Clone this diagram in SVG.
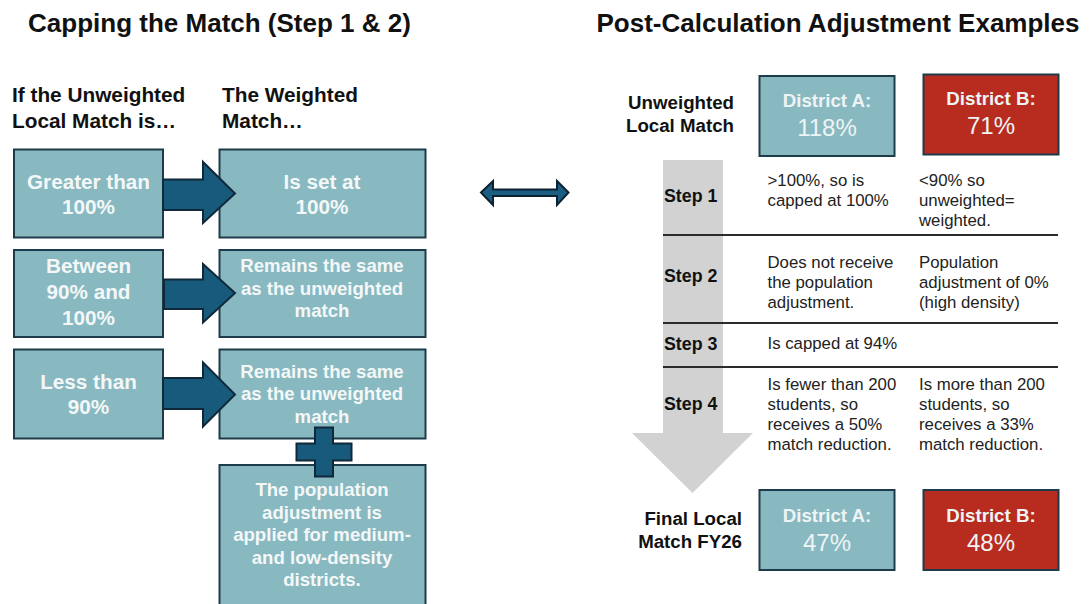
<svg xmlns="http://www.w3.org/2000/svg" width="1092" height="604" viewBox="0 0 1092 604">
<style>
.title{font-family:"Liberation Sans",Arial,sans-serif;font-weight:bold;font-size:26px;fill:#111;}
.sub{font-family:"Liberation Sans",Arial,sans-serif;font-weight:bold;font-size:20.8px;fill:#111;}
.box{fill:#88B9C0;stroke:#1E3B4B;stroke-width:2;}
.red{fill:#B82C20;stroke:#1E3B4B;stroke-width:2;}
.bt{font-family:"Liberation Sans",Arial,sans-serif;font-weight:bold;font-size:20.7px;fill:#F4F7F8;text-anchor:middle;}
.bs{font-family:"Liberation Sans",Arial,sans-serif;font-weight:bold;font-size:18.6px;fill:#F4F7F8;text-anchor:middle;}
.arr{fill:#175A7B;stroke:#10293A;stroke-width:2;stroke-linejoin:miter;}
.lab{font-family:"Liberation Sans",Arial,sans-serif;font-weight:bold;font-size:18.7px;fill:#111;text-anchor:end;}
.dn{font-family:"Liberation Sans",Arial,sans-serif;font-weight:bold;font-size:18.7px;fill:#EEF4F5;text-anchor:middle;}
.dv{font-family:"Liberation Sans",Arial,sans-serif;font-size:24px;fill:#EEF4F5;text-anchor:middle;}
.step{font-family:"Liberation Sans",Arial,sans-serif;font-weight:bold;font-size:17.8px;fill:#111;}
.txt{font-family:"Liberation Sans",Arial,sans-serif;font-size:16.8px;fill:#222;}
.rule{stroke:#2B2B2B;stroke-width:2;}
</style>
<rect width="1092" height="604" fill="#FFFFFF"/>

<g id="titles">
<text class="title" x="219.5" y="32" text-anchor="middle">Capping the Match (Step 1 &amp; 2)</text>
<text class="title" x="838" y="32" text-anchor="middle">Post-Calculation Adjustment Examples</text>
<text class="sub" x="12" y="102">If the Unweighted</text>
<text class="sub" x="12" y="128">Local Match is…</text>
<text class="sub" x="222" y="102">The Weighted</text>
<text class="sub" x="222" y="128">Match…</text>
</g>

<g id="box-greater">
<rect class="box" x="14" y="149.5" width="149" height="88"/>
<text class="bt" x="88.5" y="189">Greater than</text>
<text class="bt" x="88.5" y="214">100%</text>
</g>
<g id="box-setat">
<rect class="box" x="219.5" y="149.5" width="206" height="88"/>
<text class="bt" x="322" y="189">Is set at</text>
<text class="bt" x="322" y="214">100%</text>
</g>
<g id="box-between">
<rect class="box" x="14" y="250" width="149" height="87"/>
<text class="bt" x="88.5" y="273">Between</text>
<text class="bt" x="88.5" y="299">90% and</text>
<text class="bt" x="88.5" y="325">100%</text>
</g>
<g id="box-remains1">
<rect class="box" x="219.5" y="250" width="206" height="87"/>
<text class="bs" x="322" y="272">Remains the same</text>
<text class="bs" x="322" y="294.5">as the unweighted</text>
<text class="bs" x="322" y="317">match</text>
</g>
<g id="box-less">
<rect class="box" x="14" y="349.5" width="149" height="89"/>
<text class="bt" x="88.5" y="388.5">Less than</text>
<text class="bt" x="88.5" y="413.5">90%</text>
</g>
<g id="box-remains2">
<rect class="box" x="219.5" y="349.5" width="206" height="89"/>
<text class="bs" x="322" y="377.5">Remains the same</text>
<text class="bs" x="322" y="400">as the unweighted</text>
<text class="bs" x="322" y="422.5">match</text>
</g>
<g id="box-population">
<rect class="box" x="219.5" y="465" width="206" height="140"/>
<text class="bs" x="322" y="496">The population</text>
<text class="bs" x="322" y="518.5">adjustment is</text>
<text class="bs" x="322" y="541">applied for medium-</text>
<text class="bs" x="322" y="563.5">and low-density</text>
<text class="bs" x="322" y="586">districts.</text>
</g>

<g id="right-labels">
<text class="lab" x="734" y="109">Unweighted</text>
<text class="lab" x="734" y="132">Local Match</text>
<text class="lab" x="742" y="525">Final Local</text>
<text class="lab" x="742" y="548">Match FY26</text>
</g>

<g id="connectors">
<polygon class="arr" points="163,179.5 203,179.5 203,162 235,193.5 203,223 203,210 163,210"/>
<polygon class="arr" points="164,279.5 203,279.5 203,264 235,293 203,322.5 203,309 164,309"/>
<polygon class="arr" points="163,378 203,378 203,362.5 235,394.5 203,426.5 203,409 163,409"/>
<polygon class="arr" points="315,427.5 333,427.5 333,443.5 351.5,443.5 351.5,460.5 333,460.5 333,476.5 315,476.5 315,460.5 296.5,460.5 296.5,443.5 315,443.5"/>
<polygon points="481,192.5 493,181 493,189.5 557,189.5 557,181 568.5,192.5 557,205 557,196 493,196 493,205" fill="#1B5E84" stroke="#0C2230" stroke-width="2"/>
<polygon points="663,160 723,160 723,433 753,433 692.5,493 632,433 663,433" fill="#D2D2D2"/>
</g>

<g id="district-a-start">
<rect class="box" x="759.5" y="76" width="135" height="80"/>
<text class="dn" x="827" y="106.5">District A:</text>
<text class="dv" x="827" y="136">118%</text>
</g>
<g id="district-b-start">
<rect class="red" x="923.5" y="74.5" width="135" height="80"/>
<text class="dn" x="991" y="105">District B:</text>
<text class="dv" x="991" y="134">71%</text>
</g>

<g id="steps">
<line class="rule" x1="663" y1="235" x2="1058" y2="235"/>
<line class="rule" x1="663" y1="323" x2="1058" y2="323"/>
<line class="rule" x1="663" y1="367" x2="1058" y2="367"/>
<text class="step" x="664" y="201.5">Step 1</text>
<text class="step" x="664" y="281.5">Step 2</text>
<text class="step" x="664" y="350">Step 3</text>
<text class="step" x="664" y="410">Step 4</text>
<text class="txt" x="767.5" y="186">&gt;100%, so is</text>
<text class="txt" x="767.5" y="206">capped at 100%</text>
<text class="txt" x="919" y="186">&lt;90% so</text>
<text class="txt" x="919" y="206">unweighted=</text>
<text class="txt" x="919" y="226">weighted.</text>
<text class="txt" x="767.5" y="268">Does not receive</text>
<text class="txt" x="767.5" y="288">the population</text>
<text class="txt" x="767.5" y="308">adjustment.</text>
<text class="txt" x="919" y="268">Population</text>
<text class="txt" x="919" y="288">adjustment of 0%</text>
<text class="txt" x="919" y="308">(high density)</text>
<text class="txt" x="767.5" y="348.5">Is capped at 94%</text>
<text class="txt" x="767.5" y="390">Is fewer than 200</text>
<text class="txt" x="767.5" y="410">students, so</text>
<text class="txt" x="767.5" y="430">receives a 50%</text>
<text class="txt" x="767.5" y="450">match reduction.</text>
<text class="txt" x="919" y="390">Is more than 200</text>
<text class="txt" x="919" y="410">students, so</text>
<text class="txt" x="919" y="430">receives a 33%</text>
<text class="txt" x="919" y="450">match reduction.</text>
</g>

<g id="district-a-final">
<rect class="box" x="759.5" y="490" width="135" height="80"/>
<text class="dn" x="827" y="521.5">District A:</text>
<text class="dv" x="827" y="550.5">47%</text>
</g>
<g id="district-b-final">
<rect class="red" x="923.5" y="490" width="135" height="80"/>
<text class="dn" x="991" y="521.5">District B:</text>
<text class="dv" x="991" y="550.5">48%</text>
</g>
</svg>
